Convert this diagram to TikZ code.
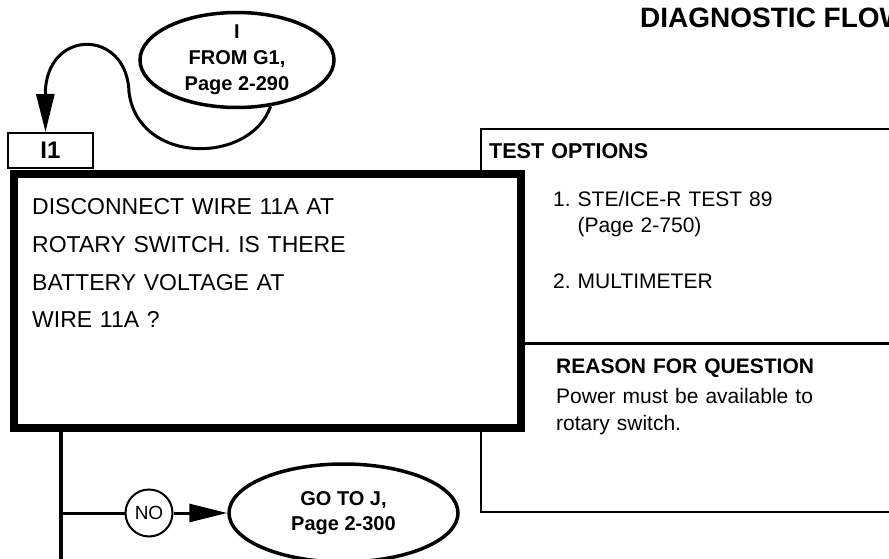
\documentclass[tikz,border=0pt]{standalone}
\usepackage{fontspec}
\setmainfont{Liberation Sans}
\frenchspacing
\usetikzlibrary{shapes.geometric, arrows.meta, positioning}

\begin{document}
\begin{tikzpicture}[x=1pt, y=-1pt, every node/.style={anchor=center, inner sep=0pt},
    oval/.style={draw, ellipse, line width=3.5pt},
    conn/.style={line width=3pt},
    fletxa/.style={-{Triangle[length=38pt,width=18pt]}},
    txt/.style={font=\fontsize{21}{26}\selectfont, align=left, anchor=base west, text width=320},
    negreta/.style={font=\fontsize{20}{26}\selectfont\bfseries, align=center}]
    \useasboundingbox (0,0) rectangle (889,559);
    \clip (0,0) rectangle (889,559);
    % Titol (tallat a la dreta)
    \node[anchor=base west, font=\fontsize{28}{32}\selectfont\bfseries] (titol) at (640,28) {DIAGNOSTIC FLOW};
    % Quadre d'opcions i motiu
    \node[draw, line width=2.5pt, minimum width=429, minimum height=383] (panell) at (695.5,320.5) {};
    % Caixa principal de la pregunta
    \node[draw, fill=white, line width=8pt, minimum width=507, minimum height=254] (q1) at (267.5,301) {};
    \coordinate (divisio) at (q1.east |- 0,343);
    \draw[line width=3pt] (divisio) -- (divisio -| panell.east);
    \node[draw, line width=2pt, minimum width=85, minimum height=35, font=\fontsize{24}{28}\selectfont\bfseries] (i1) at (50.5,150.5) {I1};
    \node[txt, font=\fontsize{23}{38}\selectfont, text width=460] (pregunta) at (32,214)
        {DISCONNECT WIRE 11A AT\\ROTARY SWITCH. IS THERE\\BATTERY VOLTAGE AT\\WIRE 11A ?};
    % Textos del panell
    \node[txt, font=\fontsize{21.5}{26}\selectfont\bfseries] (opcions) at (489,159) {TEST OPTIONS};
    \node[txt] (opcio1) at (553,206) {1. STE/ICE-R TEST 89\\\phantom{1. }(Page 2-750)};
    \node[txt] (opcio2) at (553,288) {2. MULTIMETER};
    \node[txt, font=\fontsize{21}{26}\selectfont\bfseries] (motiu) at (556,373) {REASON FOR QUESTION};
    \node[txt, font=\fontsize{21}{27}\selectfont] (motiutxt) at (556,403) {Power must be available to\\rotary switch.};
    % El·lipses d'entrada i sortida
    \node[oval, minimum width=194, minimum height=95] (fromg) at (237,60) {};
    \node[negreta] (fromgtxt) at (fromg.center) {I\\FROM G1,\\Page 2-290};
    \node[oval, minimum width=229, minimum height=98] (goj) at (343.5,513) {};
    \node[negreta, font=\fontsize{20}{25}\selectfont\bfseries] (gojtxt) at (goj.center) {GO TO J,\\Page 2-300};
    \node[draw, circle, line width=2pt, minimum size=47, font=\fontsize{19}{22}\selectfont] (no) at (149,513) {NO};
    % Connexions
    \draw[conn, fletxa] (fromg.306) .. controls (250,165) and (138,165) .. (129,92)
        .. controls (127,28) and (45,28) .. ([xshift=-5pt]i1.north);
    \coordinate (tronc) at (61,565);
    \coordinate (branca) at (61,513);
    \draw[line width=4pt] (q1.south -| tronc) -- (tronc);
    \draw[conn] (branca) -- (no);
    \draw[conn, fletxa] (no) -- (goj);
\end{tikzpicture}
\end{document}
